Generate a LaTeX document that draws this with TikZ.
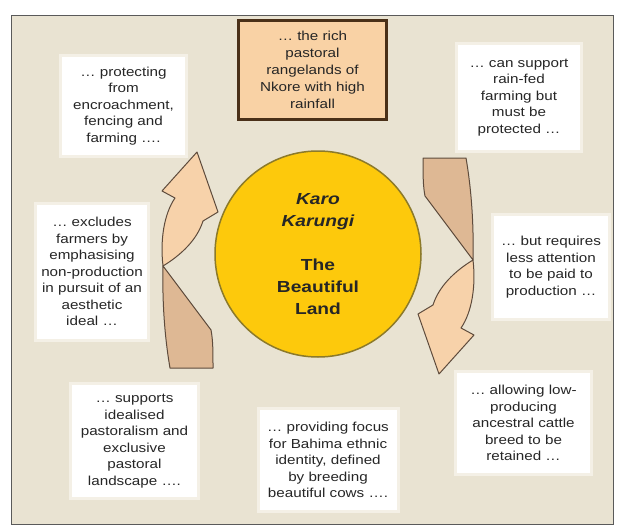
\documentclass[tikz,border=0pt]{standalone}
\usepackage{fontspec}
\newfontfamily\boxfont[FakeStretch=1.17]{Liberation Sans}
\newfontfamily\titlefont[FakeStretch=1.2]{Liberation Sans}
\definecolor{bg}{HTML}{E9E3D2}
\definecolor{frame}{HTML}{5A5A5A}
\definecolor{glow}{HTML}{F4F0E6}
\definecolor{txt}{HTML}{262626}
\definecolor{orangefill}{HTML}{F9D2A5}
\definecolor{orangeline}{HTML}{4A3018}
\definecolor{sun}{HTML}{FDC90C}
\definecolor{sunline}{HTML}{8C7A2A}
\definecolor{lightface}{HTML}{F7D2AA}
\definecolor{darkface}{HTML}{DEB894}
\definecolor{aline}{HTML}{5E4B3C}
\begin{document}
\begin{tikzpicture}[x=1pt,y=-1pt,
  tbox/.style={fill=white, preaction={draw=glow, line width=6pt}, inner sep=0pt,
    align=center, text=txt, font=\boxfont\fontsize{13}{16.5}\selectfont},
  topbox/.style={fill=orangefill, draw=orangeline, line width=3pt, inner sep=0pt,
    align=center, text=txt, font=\boxfont\fontsize{13}{17}\selectfont},
  land/.style={circle, fill=sun, draw=sunline, line width=1.5pt, inner sep=0pt,
    align=center, text=txt, font=\titlefont\bfseries\fontsize{16}{22}\selectfont},
  facelight/.style={fill=lightface, draw=aline, line width=1pt, line join=round},
  facedark/.style={fill=darkface, draw=aline, line width=1pt, line join=round}]
\useasboundingbox (0,0) rectangle (618,527);
\fill[white] (0,0) rectangle (618,527);
\draw[fill=bg, draw=frame, line width=0.8pt] (11,15) rectangle (613,524);

% curved arrows
\begin{scope}
  \path[facedark] (163,266) .. controls (162,310) and (166,345) .. (170,368)
     -- (213,368) .. controls (213,352) and (213,340) .. (211,330) -- cycle;
  \path[facelight] (163,266) .. controls (160,240) and (164,214) .. (175,198)
     -- (162,191) -- (197,152) -- (218,212) -- (203,221)
     .. controls (197,240) and (181,255) .. (163,266) -- cycle;
\end{scope}
\begin{scope}[rotate around={180:(318,263)}]
  \path[facedark] (163,266) .. controls (162,310) and (166,345) .. (170,368)
     -- (213,368) .. controls (213,352) and (213,340) .. (211,330) -- cycle;
  \path[facelight] (163,266) .. controls (160,240) and (164,214) .. (175,198)
     -- (162,191) -- (197,152) -- (218,212) -- (203,221)
     .. controls (197,240) and (181,255) .. (163,266) -- cycle;
\end{scope}

% centre
\node[land, minimum size=206] (karo) at (318,254)
  {\textit{Karo}\\\textit{Karungi}\\[22pt]The\\Beautiful\\Land};

% top box
\node[topbox, minimum width=148, minimum height=99] (rich) at (312.5,70)
  {… the rich\\pastoral\\rangelands of\\Nkore with high\\rainfall};

% text boxes
\node[tbox, minimum width=123, minimum height=98] (protect) at (123.5,106)
  {… protecting\\from\\encroachment,\\fencing and\\farming ….};
\node[tbox, minimum width=122, minimum height=105] (rainfed) at (519,97.5)
  {… can support\\rain-fed\\farming but\\must be\\protected …};
\node[tbox, minimum width=110, minimum height=134] (exclude) at (92,271.5)
  {… excludes\\farmers by\\emphasising\\non-production\\in pursuit of an\\aesthetic\\ideal …};
\node[tbox, minimum width=114, minimum height=102] (requires) at (551,267)
  {… but requires\\less attention\\to be paid to\\production …};
\node[tbox, minimum width=125, minimum height=112] (supports) at (134.5,441)
  {… supports\\idealised\\pastoralism and\\exclusive\\pastoral\\landscape ….};
\node[tbox, minimum width=137, minimum height=100] (focus) at (328,460)
  {… providing focus\\for Bahima ethnic\\identity, defined\\by breeding\\beautiful cows ….};
\node[tbox, minimum width=133, minimum height=100] (allow) at (523.5,423)
  {… allowing low-\\producing\\ancestral cattle\\breed to be\\retained …};
\end{tikzpicture}
\end{document}
